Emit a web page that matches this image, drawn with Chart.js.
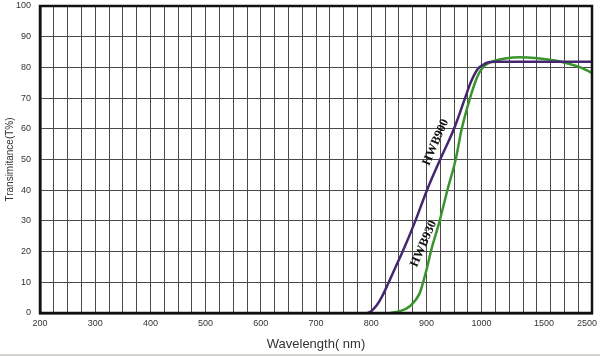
<!DOCTYPE html>
<html>
<head>
<meta charset="utf-8">
<script src="https://cdn.jsdelivr.net/npm/chart.js@4/dist/chart.umd.min.js"></script>
<style>
  html, body { margin: 0; padding: 0; background: #fff; }
  #c { display: block; }
</style>
</head>
<body>
<canvas id="c" width="600" height="356"></canvas>
<script>
// ---- Data (wavelength in nm, transmittance in %) ----
const hwb900Nm = [794, 800, 810, 820, 830, 843, 857, 880, 901, 925, 950, 970, 980, 993, 1010, 1043, 1124, 1300, 1800, 2500];
const hwb900T  = [0, 0.6, 2.5, 5.5, 9.3, 14.5, 20, 30, 40, 50, 60, 70, 75, 79.5, 80.8, 81.5, 81.8, 81.8, 81.8, 81.8];

const hwb930Nm = [835, 850, 870, 888, 894, 901, 908, 924, 938, 953, 964, 979, 988, 995, 1011, 1051, 1092, 1188, 1308, 1428, 1625, 1833, 2040, 2247, 2500];
const hwb930T  = [0, 0.5, 2.2, 6.5, 10, 14.6, 20, 30, 40, 50, 60, 70, 75, 78, 80, 81.3, 82, 82.9, 83.3, 83.1, 82.5, 81.9, 81.1, 80.1, 78.2];

// Non-uniform wavelength axis: anchor wavelengths and their axis positions
const axisNm  = [200, 1000, 1500, 2500];
const axisPos = [200, 1000, 1113, 1200];

const xTickLabels = [200, 300, 400, 500, 600, 700, 800, 900, 1000, 1500, 2500];
const yTickStep = 10;

const seriesNames = ['HWB900', 'HWB930'];
const curveLabelNm = [917, 895];
const curveLabelT  = [55.6, 22.5];

// ---- helpers ----
function nmToPos(nm) {
  for (let i = 0; i < axisNm.length - 1; i++) {
    if (nm <= axisNm[i + 1] || i === axisNm.length - 2) {
      const t = (nm - axisNm[i]) / (axisNm[i + 1] - axisNm[i]);
      return axisPos[i] + t * (axisPos[i + 1] - axisPos[i]);
    }
  }
}
function toPoints(xs, ys) { return xs.map((x, i) => ({ x: nmToPos(x), y: ys[i] })); }

const textColor = '#333333';

const framePlugin = {
  id: 'frame',
  beforeDraw(chart) {
    const ctx = chart.ctx;
    ctx.save();
    ctx.fillStyle = '#ffffff';
    ctx.fillRect(0, 0, chart.width, chart.height);
    ctx.fillStyle = '#d4d4d0';
    ctx.fillRect(0, chart.height - 2, chart.width, 2);
    ctx.restore();
  },
  afterDraw(chart) {
    const { ctx, chartArea: a, scales } = chart;
    ctx.save();
    // frame
    ctx.strokeStyle = '#111111';
    ctx.lineWidth = 2.5;
    ctx.strokeRect(a.left, a.top, a.right - a.left, a.bottom - a.top);
    // x tick labels (non-uniform axis)
    ctx.fillStyle = textColor;
    ctx.font = '9px "Liberation Sans", Arial, sans-serif';
    ctx.textAlign = 'center';
    ctx.textBaseline = 'middle';
    xTickLabels.forEach(v => {
      const s = String(v);
      const w = ctx.measureText(s).width;
      let x = scales.x.getPixelForValue(nmToPos(v));
      x = Math.min(x, chart.width - 3 - w / 2);
      ctx.fillText(s, x, a.bottom + 10.5);
    });
    // curve labels
    ctx.fillStyle = '#111111';
    ctx.font = 'bold 12.5px "Liberation Serif", "Times New Roman", serif';
    seriesNames.forEach((name, i) => {
      const x = scales.x.getPixelForValue(nmToPos(curveLabelNm[i]));
      const y = scales.y.getPixelForValue(curveLabelT[i]);
      ctx.save();
      ctx.translate(x, y);
      ctx.rotate(-66.5 * Math.PI / 180);
      ctx.textAlign = 'center';
      ctx.textBaseline = 'middle';
      ctx.fillText(name, 0, 0);
      ctx.restore();
    });
    ctx.restore();
  }
};

new Chart(document.getElementById('c'), {
  type: 'line',
  data: {
    datasets: [
      {
        label: seriesNames[0],
        data: toPoints(hwb900Nm, hwb900T),
        borderColor: '#45276f',
        borderWidth: 2.5,
        pointRadius: 0,
        cubicInterpolationMode: 'monotone',
        fill: false
      },
      {
        label: seriesNames[1],
        data: toPoints(hwb930Nm, hwb930T),
        borderColor: '#3a952f',
        borderWidth: 2.5,
        pointRadius: 0,
        cubicInterpolationMode: 'monotone',
        fill: false
      }
    ]
  },
  options: {
    responsive: false,
    devicePixelRatio: 1,
    animation: false,
    layout: { padding: { top: 6, right: 8, left: 0, bottom: 0 } },
    plugins: { legend: { display: false }, tooltip: { enabled: false } },
    scales: {
      x: {
        type: 'linear',
        min: 200,
        max: 1200,
        afterFit(s) { s.height = 43; s.paddingLeft = 0; s.paddingRight = 0; },
        ticks: { display: false, stepSize: 25, maxTicksLimit: 200 },
        grid: { color: '#4a4a4a', lineWidth: 1, drawTicks: false },
        border: { display: true, color: '#111111', width: 2.5 },
        title: {
          display: true,
          text: 'Wavelength( nm)',
          color: textColor,
          font: { family: '"Liberation Sans", Arial, sans-serif', size: 13 },
          padding: { top: 0, bottom: 4 }
        }
      },
      y: {
        min: 0,
        max: 100,
        afterFit(s) { s.width = 40; s.paddingTop = 0; s.paddingBottom = 0; },
        ticks: {
          stepSize: yTickStep,
          padding: 9,
          color: textColor,
          font: { family: '"Liberation Sans", Arial, sans-serif', size: 9 }
        },
        grid: { color: '#4a4a4a', lineWidth: 1, drawTicks: false },
        border: { display: true, color: '#111111', width: 2.5 },
        title: {
          display: true,
          text: 'Transimitance(T%)',
          color: textColor,
          font: { family: '"Liberation Sans", Arial, sans-serif', size: 10 },
          padding: { top: 4, bottom: 0 }
        }
      }
    }
  },
  plugins: [framePlugin]
});
</script>
</body>
</html>
